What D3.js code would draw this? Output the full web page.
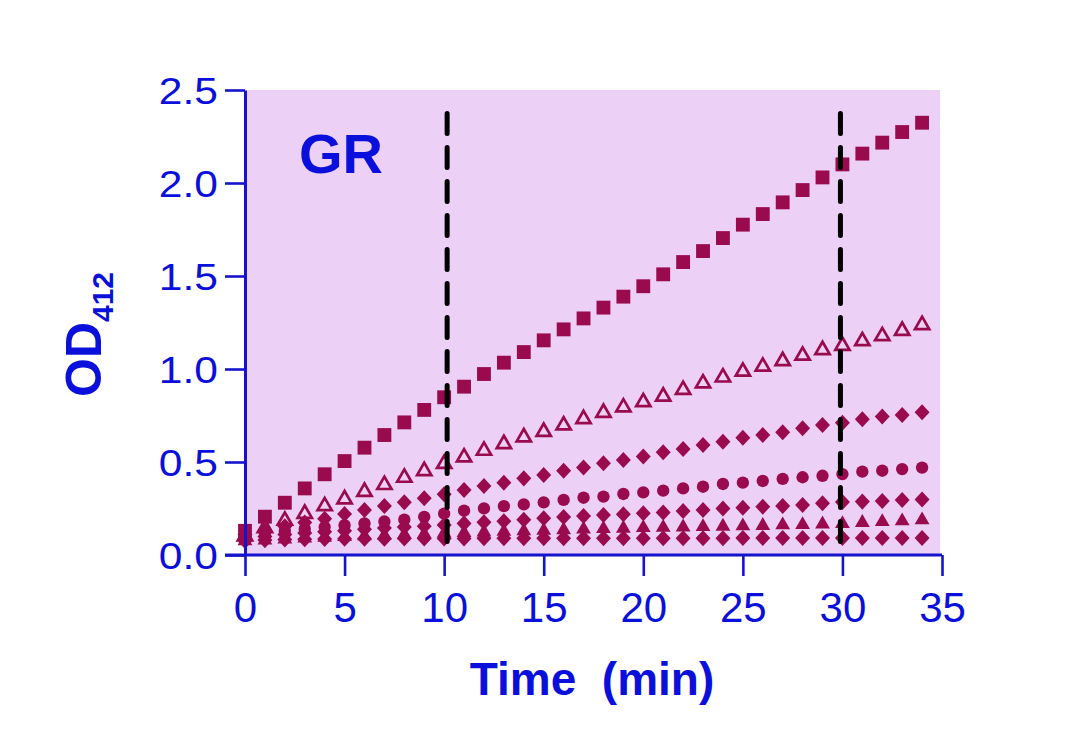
<!DOCTYPE html>
<html>
<head>
<meta charset="utf-8">
<script src="https://cdn.jsdelivr.net/npm/d3@7"></script>
<style>
  body { margin: 0; background: #ffffff; }
  svg { display: block; }
  text { font-family: "Liberation Sans", Arial, sans-serif; }
</style>
</head>
<body>
<div id="chart"></div>
<script>
// Tiempo de lectura (min)
const minutes = [0,1,2,3,4,5,6,7,8,9,10,11,12,13,14,15,16,17,18,19,20,21,22,23,24,25,26,27,28,29,30,31,32,33,34];

// Series de OD412 (de mayor a menor actividad)
const squareSeries = [0.13,0.206,0.281,0.358,0.434,0.505,0.577,0.645,0.713,0.78,0.848,0.905,0.973,1.034,1.091,1.154,1.213,1.272,1.33,1.389,1.445,1.509,1.575,1.634,1.704,1.776,1.833,1.896,1.962,2.03,2.10,2.158,2.217,2.274,2.324];
const openTriangleSeries = [0.10,0.145,0.185,0.222,0.263,0.30,0.34,0.377,0.416,0.452,0.49,0.525,0.561,0.597,0.633,0.663,0.697,0.731,0.765,0.794,0.822,0.852,0.888,0.923,0.955,0.986,1.013,1.043,1.072,1.102,1.125,1.15,1.177,1.206,1.237];
const upperDiamondSeries = [0.11,0.13,0.155,0.175,0.195,0.22,0.242,0.263,0.283,0.305,0.327,0.349,0.371,0.389,0.412,0.43,0.453,0.471,0.493,0.511,0.529,0.552,0.57,0.591,0.609,0.631,0.645,0.66,0.681,0.699,0.711,0.73,0.744,0.753,0.767];
const circleSeries = [0.10,0.115,0.13,0.14,0.15,0.16,0.17,0.18,0.19,0.205,0.222,0.238,0.251,0.263,0.272,0.283,0.296,0.308,0.314,0.328,0.337,0.346,0.358,0.367,0.382,0.389,0.398,0.409,0.418,0.426,0.435,0.448,0.453,0.462,0.47];
const middleDiamondSeries = [0.09,0.10,0.11,0.118,0.125,0.13,0.138,0.145,0.15,0.155,0.161,0.17,0.176,0.182,0.19,0.197,0.204,0.21,0.215,0.219,0.224,0.229,0.236,0.242,0.25,0.254,0.26,0.263,0.269,0.278,0.285,0.287,0.29,0.296,0.299];
const filledTriangleSeries = [0.075,0.08,0.085,0.09,0.094,0.098,0.102,0.106,0.11,0.113,0.117,0.12,0.123,0.126,0.129,0.132,0.135,0.138,0.141,0.143,0.146,0.148,0.15,0.152,0.154,0.156,0.158,0.161,0.163,0.166,0.168,0.174,0.179,0.183,0.188];
const lowerDiamondSeries = [0.075,0.08,0.083,0.085,0.086,0.088,0.088,0.088,0.089,0.089,0.089,0.089,0.09,0.09,0.09,0.09,0.09,0.09,0.09,0.09,0.09,0.09,0.09,0.09,0.09,0.091,0.091,0.091,0.091,0.091,0.091,0.092,0.092,0.092,0.092];

// Ejes y marcas de referencia
const xTicks = [0,5,10,15,20,25,30,35];
const yTicks = [0.0,0.5,1.0,1.5,2.0,2.5];
const refLines = [10.15, 29.9];
const refLineTop = 2.39;

const width = 1086, height = 755;
const blue = "#0a0fdc";
const axisBlue = "#1414cc";
const markColor = "#990a4e";

const svg = d3.select("#chart").append("svg")
    .attr("width", width)
    .attr("height", height);

const x = d3.scaleLinear().domain([0, 35]).range([245, 942]);
const y = d3.scaleLinear().domain([0, 2.5]).range([555, 90]);

// Fondo del área de trazado
svg.append("rect")
    .attr("x", 246).attr("y", 90)
    .attr("width", 694).attr("height", 465)
    .attr("fill", "#ecd0f5");

// Rombo casi cuadrado (el de d3 es demasiado alargado)
const diamond = {
    draw(ctx, size) {
        const r = Math.sqrt(size / 2);
        ctx.moveTo(0, -r * 1.07);
        ctx.lineTo(r, 0);
        ctx.lineTo(0, r * 1.07);
        ctx.lineTo(-r, 0);
        ctx.closePath();
    }
};

const series = [
    { values: lowerDiamondSeries, type: diamond, size: 112, fill: true },
    { values: filledTriangleSeries, type: d3.symbolTriangle, size: 95, fill: true },
    { values: middleDiamondSeries, type: diamond, size: 112, fill: true },
    { values: circleSeries, type: d3.symbolCircle, size: 120, fill: true },
    { values: upperDiamondSeries, type: diamond, size: 112, fill: true },
    { values: openTriangleSeries, type: d3.symbolTriangle, size: 88, fill: false },
    { values: squareSeries, type: d3.symbolSquare, size: 192, fill: true }
];

series.forEach(s => {
    const sym = d3.symbol().type(s.type).size(s.size);
    svg.append("g").selectAll("path")
        .data(s.values)
        .enter().append("path")
        .attr("transform", (d, i) => `translate(${x(minutes[i])},${y(d)})`)
        .attr("d", sym)
        .attr("fill", s.fill ? markColor : "none")
        .attr("stroke", s.fill ? "none" : markColor)
        .attr("stroke-width", s.fill ? 0 : 2.7);
});

// Líneas verticales discontinuas
svg.append("g").selectAll("line")
    .data(refLines)
    .enter().append("line")
    .attr("x1", d => x(d)).attr("x2", d => x(d))
    .attr("y1", y(refLineTop) + 3).attr("y2", y(0))
    .attr("stroke", "#000")
    .attr("stroke-width", 5)
    .attr("stroke-linecap", "round")
    .attr("stroke-dasharray", "20 14");

// Eje X
const gx = svg.append("g")
    .attr("transform", `translate(0,${y(0)})`)
    .call(d3.axisBottom(x).tickValues(xTicks).tickSize(21).tickSizeOuter(0).tickFormat(d3.format("d")));
gx.select(".domain").attr("stroke", axisBlue).attr("stroke-width", 3).attr("d", `M225,0H${x(35)}`);
gx.selectAll(".tick line").attr("stroke", axisBlue).attr("stroke-width", 2.6);
gx.selectAll(".tick text")
    .attr("y", 67).attr("dy", null)
    .attr("fill", blue)
    .style("font-size", "42px");

// Eje Y
const gy = svg.append("g")
    .attr("transform", `translate(${x(0)},0)`)
    .call(d3.axisLeft(y).tickValues(yTicks).tickSize(20).tickSizeOuter(0).tickFormat(d3.format(".1f")));
gy.select(".domain").attr("stroke", axisBlue).attr("stroke-width", 3);
gy.selectAll(".tick line").attr("stroke", axisBlue).attr("stroke-width", 2.6);
gy.selectAll(".tick text")
    .attr("x", null).attr("dy", "0.36em")
    .attr("transform", "translate(-27,0) scale(1.15,1)")
    .attr("fill", blue)
    .style("font-size", "37px");

// Títulos
svg.append("text")
    .attr("x", 592).attr("y", 695)
    .attr("text-anchor", "middle")
    .attr("fill", blue)
    .style("font-size", "46px").style("font-weight", "bold")
    .style("white-space", "pre")
    .text("Time  (min)");

const yLabel = svg.append("text")
    .attr("transform", "translate(101,397) rotate(-90)")
    .attr("fill", blue)
    .style("font-size", "50px").style("font-weight", "bold");
yLabel.append("tspan").text("OD");
yLabel.append("tspan").attr("dy", 12).style("font-size", "30px").text("412");

svg.append("text")
    .attr("x", 299).attr("y", 173)
    .attr("fill", blue)
    .style("font-size", "56px").style("font-weight", "bold")
    .text("GR");
</script>
</body>
</html>
